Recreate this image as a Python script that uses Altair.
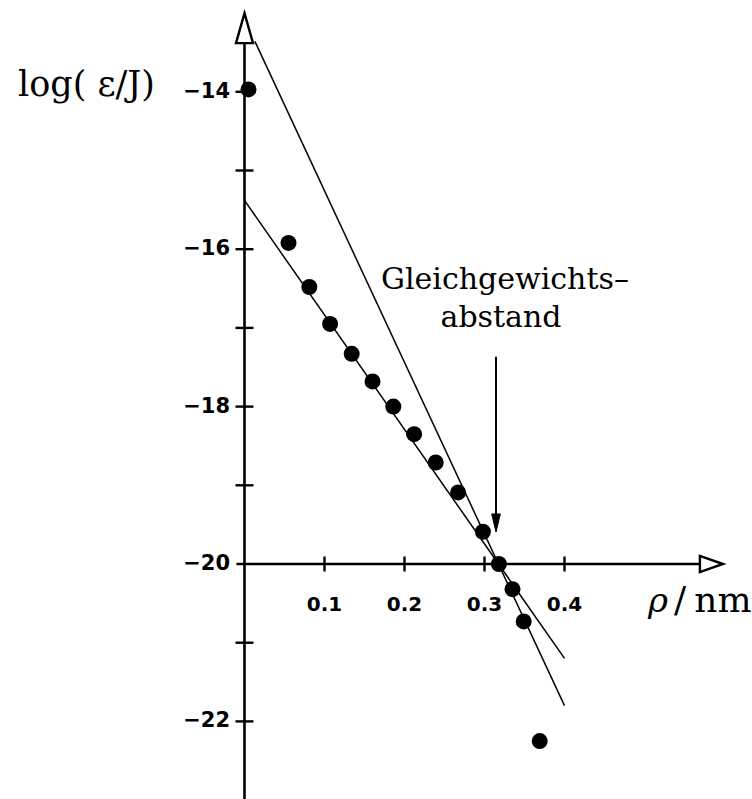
import altair as alt
import pandas as pd

# Measured interaction energies: distance rho (nm) vs log10(epsilon / J)
rho = [0.005, 0.055, 0.081, 0.107, 0.134, 0.160, 0.186, 0.212, 0.239, 0.267,
       0.298, 0.318, 0.335, 0.349, 0.369]
log_eps = [-13.97, -15.92, -16.48, -16.95, -17.33, -17.68, -18.00, -18.35,
           -18.71, -19.09, -19.59, -20.00, -20.32, -20.73, -22.25]

# Two straight-line fits
fit_a_x = [0.013, 0.40]
fit_a_y = [-13.36, -21.80]
fit_b_x = [0.0, 0.40]
fit_b_y = [-15.38, -21.20]

# Axis ticks
x_ticks = [0.1, 0.2, 0.3, 0.4]
x_tick_labels = ["0.1", "0.2", "0.3", "0.4"]
y_major = [-14, -16, -18, -22]
y_major_labels = ["\u221214", "\u221216", "\u221218", "\u221222"]
y_label_20 = ["\u221220"]
y_minor = [-15, -17, -19, -21]

# Axis extents (x axis crosses at y = -20)
x_axis = [-0.010, 0.571]
y_axis = [-23.2, -13.37]
x_arrow_tip = 0.598
y_arrow_tip = -13.0

# Annotation arrow for the equilibrium distance
ann_x = 0.3144
ann_top = -17.366
ann_tip = -19.593

xs = alt.Scale(domain=[-0.305625, 0.634375], nice=False, zero=False)
ys = alt.Scale(domain=[-22.986, -12.8335], nice=False, zero=False)


def X(f):
    return alt.X(f, type="quantitative", scale=xs, axis=None)


def Y(f):
    return alt.Y(f, type="quantitative", scale=ys, axis=None)


SERIF = "DejaVu Serif"
SANS = "DejaVu Sans"

pts = pd.DataFrame({"rho": rho, "le": log_eps})
fit_a = pd.DataFrame({"x": fit_a_x, "y": fit_a_y})
fit_b = pd.DataFrame({"x": fit_b_x, "y": fit_b_y})

# Axis lines
yaxis_line = alt.Chart(pd.DataFrame({"x": [0.0], "y": [y_axis[0]], "y2": [y_axis[1]]})).mark_rule(
    color="black", strokeWidth=2.6
).encode(x=X("x"), y=Y("y"), y2="y2")

xaxis_line = alt.Chart(pd.DataFrame({"y": [-20.0], "x": [x_axis[0]], "x2": [x_axis[1]]})).mark_rule(
    color="black", strokeWidth=2.6
).encode(y=Y("y"), x=X("x"), x2="x2")

# Open arrowheads at the axis ends
y_arrow = alt.Chart(pd.DataFrame({"x": [0.0], "y": [y_arrow_tip]})).mark_point(
    shape="M0,0L0.283,1L-0.283,1Z", size=3600, filled=True, fill="white",
    stroke="black", strokeWidth=2.4, opacity=1
).encode(x=X("x"), y=Y("y"))

x_arrow = alt.Chart(pd.DataFrame({"x": [x_arrow_tip], "y": [-20.0]})).mark_point(
    shape="M0,0L-1,-0.35L-1,0.35Z", size=2116, filled=True, fill="white",
    stroke="black", strokeWidth=2.4, opacity=1
).encode(x=X("x"), y=Y("y"))

# Ticks
y_tick_df = pd.DataFrame({"x": 0.0, "y": y_major + y_minor})
y_tick_marks = alt.Chart(y_tick_df).mark_tick(
    orient="horizontal", size=18, thickness=2.4, color="black", opacity=1
).encode(x=X("x"), y=Y("y"))

x_tick_df = pd.DataFrame({"x": x_ticks, "y": -20.0})
x_tick_marks = alt.Chart(x_tick_df).mark_tick(
    orient="vertical", size=15, thickness=2.4, color="black", opacity=1
).encode(x=X("x"), y=Y("y"))

# Tick labels
y_lab_df = pd.DataFrame({"x": -0.018, "y": y_major + [-20], "t": y_major_labels + y_label_20})
y_labels = alt.Chart(y_lab_df).mark_text(
    align="right", baseline="middle", font=SANS, fontWeight="bold", fontSize=21, color="black"
).encode(x=X("x"), y=Y("y"), text="t:N")

x_lab_df = pd.DataFrame({"x": x_ticks, "y": -20.0, "t": x_tick_labels})
x_labels = alt.Chart(x_lab_df).mark_text(
    align="center", baseline="middle", dy=41, font=SANS, fontWeight="bold", fontSize=20, color="black"
).encode(x=X("x"), y=Y("y"), text="t:N")

# Fit lines
line_a = alt.Chart(fit_a).mark_line(color="black", strokeWidth=1.5).encode(x=X("x"), y=Y("y"))
line_b = alt.Chart(fit_b).mark_line(color="black", strokeWidth=1.5).encode(x=X("x"), y=Y("y"))

# Data points
dots = alt.Chart(pts).mark_circle(size=256, color="black", opacity=1).encode(x=X("rho"), y=Y("le"))

# Annotation arrow
ann_line = alt.Chart(pd.DataFrame({"x": [ann_x], "y": [ann_top], "y2": [ann_tip + 0.15]})).mark_rule(
    color="black", strokeWidth=2
).encode(x=X("x"), y=Y("y"), y2="y2")
ann_head = alt.Chart(pd.DataFrame({"x": [ann_x], "y": [ann_tip]})).mark_point(
    shape="M0,0L-0.24,-1L0.24,-1Z", size=1296, filled=True, fill="black",
    stroke="black", strokeWidth=1, opacity=1
).encode(x=X("x"), y=Y("y"))

ann_text = alt.Chart(pd.DataFrame({
    "x": [0.3256, 0.3206], "y": [-16.506, -16.99], "t": ["Gleichgewichts\u2013", "abstand"]
})).mark_text(
    align="center", baseline="alphabetic", font=SERIF, fontSize=30, color="black"
).encode(x=X("x"), y=Y("y"), text="t:N")

# Axis titles
y_title = alt.Chart(pd.DataFrame({"x": [-0.1975], "y": [-14.053], "t": ["log( \u03b5/J)"]})).mark_text(
    align="center", baseline="alphabetic", font=SERIF, fontSize=35, color="black"
).encode(x=X("x"), y=Y("y"), text="t:N")

x_title_rho = alt.Chart(pd.DataFrame({"x": [0.5294], "y": [-20.61], "t": ["\u03c1"]})).mark_text(
    align="right", baseline="alphabetic", font=SERIF, fontStyle="italic", fontSize=34, color="black"
).encode(x=X("x"), y=Y("y"), text="t:N")

x_title_slash = alt.Chart(pd.DataFrame({"x": [0.5444], "y": [-20.61], "t": ["/"]})).mark_text(
    align="center", baseline="alphabetic", font=SERIF, fontSize=36, color="black"
).encode(x=X("x"), y=Y("y"), text="t:N")

x_title_unit = alt.Chart(pd.DataFrame({"x": [0.634], "y": [-20.61], "t": ["nm"]})).mark_text(
    align="right", baseline="alphabetic", font=SERIF, fontSize=36, color="black"
).encode(x=X("x"), y=Y("y"), text="t:N")

chart = alt.layer(
    line_a, line_b, yaxis_line, xaxis_line, y_tick_marks, x_tick_marks,
    y_arrow, x_arrow, dots, ann_line, ann_head, ann_text,
    y_labels, x_labels, y_title, x_title_rho, x_title_slash, x_title_unit
).properties(
    width=752, height=799,
    autosize=alt.AutoSizeParams(type="none"),
    padding=0,
    background="white",
).configure_view(stroke=None)

chart.save("out.html", embed_options={"renderer": "svg", "actions": False})
